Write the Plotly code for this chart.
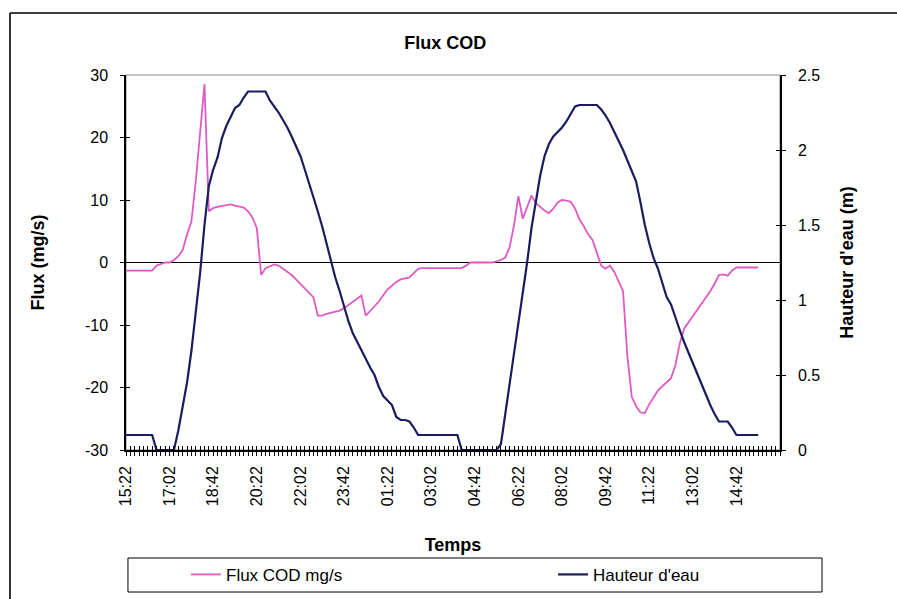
import plotly.graph_objects as go
import pandas as pd

# ---------------- data ----------------
start_time = "2000-01-01 15:22"
n_points = 146  # 10-minute steps from 15:22 to 15:32 next day

flux_cod = [
    -1.3, -1.3, -1.3, -1.3, -1.3, -1.3, -1.3, -0.5, -0.2, 0.0,
    0.0, 0.4, 1.0, 2.0, 4.5, 6.5, 13.0, 21.0, 28.5, 8.2,
    8.7, 8.9, 9.0, 9.2, 9.3, 9.1, 9.0, 8.8, 8.2, 7.2,
    5.5, -2.0, -0.9, -0.6, -0.3, -0.5, -1.0, -1.4, -2.0, -2.7,
    -3.4, -4.1, -4.8, -5.6, -8.5, -8.5, -8.2, -8.0, -7.8, -7.7,
    -7.3, -6.8, -6.4, -5.8, -5.3, -8.5, -7.8, -7.0, -6.2, -5.2,
    -4.3, -3.7, -3.1, -2.7, -2.6, -2.4, -1.7, -1.0, -0.9, -0.9,
    -0.9, -0.9, -0.9, -0.9, -0.9, -0.9, -0.9, -0.9, -0.5, 0.0,
    0.0, 0.0, 0.0, 0.0, 0.0, 0.2, 0.4, 0.8, 2.5, 6.0,
    10.6, 7.0, 9.0, 10.7, 9.5, 8.9, 8.3, 7.9, 8.6, 9.6,
    10.0, 9.9, 9.7, 8.6, 6.9, 5.8, 4.5, 3.6, 1.5, -0.5,
    -1.0, -0.5, -1.5, -3.0, -4.6, -15.0, -21.5, -23.0, -24.0, -24.1,
    -22.7, -21.6, -20.5, -19.8, -19.2, -18.5, -16.5, -13.0, -10.6, -9.6,
    -8.7, -7.8, -6.8, -5.8, -4.6, -3.4, -2.0, -1.9, -2.1, -1.3,
    -0.8, -0.8, -0.8, -0.8, -0.8, -0.8,
]

hauteur_eau = [
    0.1, 0.1, 0.1, 0.1, 0.1, 0.1, 0.1, 0.0, 0.0, 0.0,
    0.0, 0.0, 0.13, 0.3, 0.45, 0.66, 0.9, 1.18, 1.5, 1.76,
    1.87, 1.95, 2.08, 2.16, 2.22, 2.28, 2.3, 2.35, 2.39, 2.39,
    2.39, 2.39, 2.39, 2.33, 2.29, 2.25, 2.2, 2.15, 2.09, 2.03,
    1.96, 1.87, 1.78, 1.69, 1.59, 1.49, 1.37, 1.25, 1.15, 1.06,
    0.96, 0.86, 0.78, 0.72, 0.67, 0.6, 0.55, 0.5, 0.42, 0.36,
    0.33, 0.3, 0.22, 0.2, 0.2, 0.19, 0.15, 0.1, 0.1, 0.1,
    0.1, 0.1, 0.1, 0.1, 0.1, 0.1, 0.1, 0.0, 0.0, 0.0,
    0.0, 0.0, 0.0, 0.0, 0.0, 0.0, 0.04, 0.24, 0.44, 0.64,
    0.84, 1.04, 1.25, 1.48, 1.66, 1.83, 1.96, 2.04, 2.09, 2.12,
    2.15, 2.19, 2.24, 2.29, 2.3, 2.3, 2.3, 2.3, 2.3, 2.27,
    2.23, 2.18, 2.12, 2.07, 2.0, 1.93, 1.86, 1.79, 1.65, 1.5,
    1.38, 1.28, 1.21, 1.12, 1.02, 0.97, 0.88, 0.8, 0.72, 0.65,
    0.57, 0.5, 0.43, 0.37, 0.3, 0.24, 0.19, 0.19, 0.19, 0.15,
    0.1, 0.1, 0.1, 0.1, 0.1, 0.1,
]

x_tick_labels = ["15:22", "17:02", "18:42", "20:22", "22:02", "23:42", "01:22",
                 "03:02", "04:42", "06:22", "08:02", "09:42", "11:22", "13:02", "14:42"]
left_tick_values = [-30, -20, -10, 0, 10, 20, 30]
left_tick_labels = ["-30", "-20", "-10", "0", "10", "20", "30"]
right_tick_values = [0, 0.5, 1, 1.5, 2, 2.5]
right_tick_labels = ["0", "0.5", "1", "1.5", "2", "2.5"]

# ---------------- figure ----------------
temps = pd.date_range(start_time, periods=n_points, freq="10min")
x_range_end = temps[0] + pd.Timedelta(minutes=1500)
tick_positions = list(temps[::10][:len(x_tick_labels)])

FONT = "Liberation Sans, Arial, Helvetica, sans-serif"
PINK = "#E05AC6"
NAVY = "#1B1B5E"

fig = go.Figure()
fig.add_trace(go.Scatter(x=temps, y=flux_cod, name="Flux COD mg/s", mode="lines",
                         line=dict(color=PINK, width=1.8), xaxis="x", yaxis="y",
                         legend="legend"))
fig.add_trace(go.Scatter(x=temps, y=hauteur_eau, name="Hauteur d'eau", mode="lines",
                         line=dict(color=NAVY, width=2.2), xaxis="x", yaxis="y2",
                         legend="legend2"))
# helper traces so the overlay (inside-tick) axes are rendered
fig.add_trace(go.Scatter(x=[temps[0]], y=[0], mode="lines", showlegend=False,
                         hoverinfo="skip", xaxis="x2", yaxis="y3"))
fig.add_trace(go.Scatter(x=[temps[0]], y=[0], mode="lines", showlegend=False,
                         hoverinfo="skip", xaxis="x", yaxis="y4"))

tickfont = dict(family=FONT, size=16, color="black")
titlefont = dict(family=FONT, size=18, color="black")
legendfont = dict(family=FONT, size=17, color="black")
minor_out = dict(dtick=600000, tick0=start_time, ticks="outside", ticklen=4,
                 tickcolor="black", tickwidth=1, showgrid=False)
minor_in = dict(dtick=600000, tick0=start_time, ticks="inside", ticklen=4,
                tickcolor="black", tickwidth=1, showgrid=False)

frame_left = -0.1774
frame_top = 1.1653

fig.update_layout(
    width=897, height=599,
    margin=dict(l=126, r=117, t=75, b=149, autoexpand=False),
    paper_bgcolor="white", plot_bgcolor="white",
    font=dict(family=FONT, color="black"),
    title=dict(text="<b>Flux COD</b>", font=dict(family=FONT, size=18, color="black"),
               x=0.488, xref="paper", xanchor="center", y=0.928, yref="container",
               yanchor="middle"),
    xaxis=dict(type="date", range=[temps[0], x_range_end], automargin=False,
               tickmode="array", tickvals=tick_positions, ticktext=x_tick_labels,
               tickangle=-90, tickfont=tickfont, ticklabelstandoff=4,
               ticks="outside", ticklen=4, tickcolor="black",
               minor=minor_out,
               showline=True, linecolor="black", linewidth=1.5,
               showgrid=False, zeroline=False,
               title=dict(text="<b>Temps</b>", font=titlefont, standoff=33)),
    xaxis2=dict(type="date", overlaying="x", matches="x", anchor="y", side="bottom",
                automargin=False,
                tickmode="array", tickvals=tick_positions, showticklabels=False,
                ticks="inside", ticklen=4, tickcolor="black",
                minor=minor_in, showline=False, showgrid=False, zeroline=False),
    yaxis=dict(range=[-30, 30], automargin=False,
               tickmode="array", tickvals=left_tick_values,
               ticktext=left_tick_labels, tickfont=tickfont, ticklabelstandoff=9,
               ticks="outside", ticklen=4, tickcolor="black",
               showline=True, linecolor="black", linewidth=1.5,
               showgrid=False, zeroline=True, zerolinecolor="black", zerolinewidth=1,
               title=dict(text="<b>Flux (mg/s)</b>", font=titlefont, standoff=36)),
    yaxis3=dict(overlaying="y", matches="y", side="left", anchor="x2", automargin=False,
                tickmode="array", tickvals=left_tick_values, showticklabels=False,
                ticks="inside", ticklen=4, tickcolor="black",
                showline=False, showgrid=False, zeroline=False),
    yaxis2=dict(overlaying="y", side="right", anchor="x", range=[0, 2.5], automargin=False,
                tickmode="array", tickvals=right_tick_values, ticktext=right_tick_labels,
                tickfont=tickfont, ticklabelstandoff=9,
                ticks="outside", ticklen=4, tickcolor="black",
                showline=True, linecolor="black", linewidth=1.5,
                showgrid=False, zeroline=False,
                title=dict(text="<b>Hauteur d'eau (m)</b>", font=titlefont, standoff=21)),
    yaxis4=dict(overlaying="y", matches="y2", side="right", anchor="x", automargin=False,
                tickmode="array", tickvals=right_tick_values, showticklabels=False,
                ticks="inside", ticklen=4, tickcolor="black",
                showline=False, showgrid=False, zeroline=False),
    legend=dict(orientation="h", x=(186 - 126) / 654, xanchor="left",
                y=-0.333, yanchor="middle", bgcolor="rgba(0,0,0,0)", font=legendfont),
    legend2=dict(orientation="h", x=(553 - 126) / 654, xanchor="left",
                 y=-0.333, yanchor="middle", bgcolor="rgba(0,0,0,0)", font=legendfont),
    showlegend=True,
    shapes=[
        # outer chart frame: only top and left edges are inside the picture
        dict(type="line", xref="paper", yref="paper", x0=frame_left, x1=1.3,
             y0=frame_top, y1=frame_top, line=dict(color="black", width=1.6)),
        dict(type="line", xref="paper", yref="paper", x0=frame_left, x1=frame_left,
             y0=-0.5, y1=frame_top, line=dict(color="black", width=1.6)),
        # plot-area border
        dict(type="rect", xref="paper", yref="paper", x0=0, x1=1, y0=0, y1=1,
             line=dict(color="#888888", width=1), layer="below"),
        # legend box
        dict(type="rect", xref="paper", yref="paper", x0=0.003, x1=(822 - 126) / 654,
             y0=-0.3787, y1=-0.288, line=dict(color="black", width=1)),
    ],
)

fig.write_html("out.html")
